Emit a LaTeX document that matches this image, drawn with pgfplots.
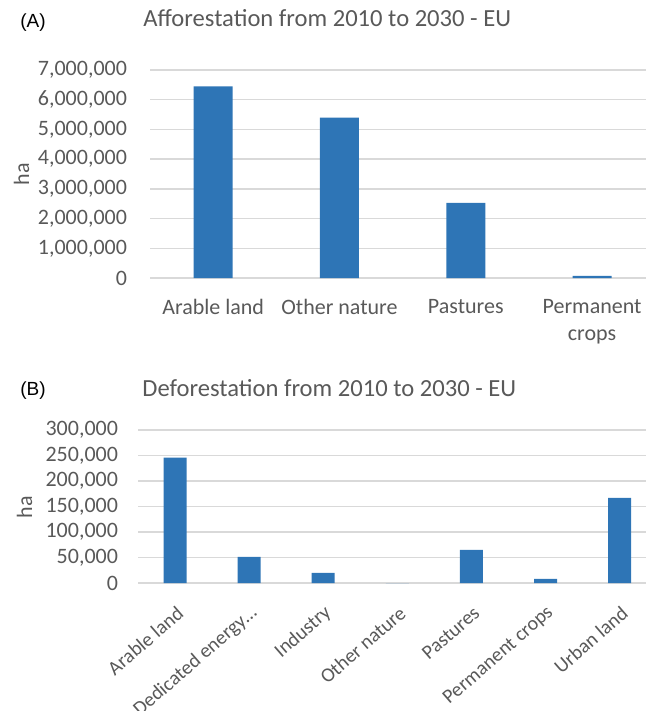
\documentclass[border=0pt]{standalone}
\usepackage{pgfplots}
\pgfplotsset{compat=1.18}
\usepackage{fontspec}
\setmainfont{Carlito}
\newfontfamily\panelfont{Liberation Sans}

\definecolor{barblue}{HTML}{2E75B6}
\definecolor{txtgray}{HTML}{595959}
\definecolor{gridgray}{HTML}{D9D9D9}

\pgfplotsset{
  excel/.style={
    scale only axis,
    ybar,
    axis line style={draw=none},
    major tick length=0pt,
    ymin=0, xmin=-0.5,
    ymajorgrids,
    grid style={gridgray, line width=0.7pt},
    scaled y ticks=false,
    /pgf/number format/fixed,
    /pgf/number format/assume math mode=true,
    /pgf/number format/1000 sep={,},
    ticklabel style={font=\fontsize{11}{13.6}\selectfont, text=txtgray},
  }
}

\begin{document}
\begin{tikzpicture}
\useasboundingbox (0,0) rectangle (323pt,-355.5pt);

% (A) afforestation
\node[anchor=base west, inner sep=0, font=\panelfont\fontsize{9.5}{11}\selectfont] at (10pt,-14pt) {(A)};
\node[anchor=base west, inner sep=0, text=txtgray, font=\fontsize{12.3}{14}\selectfont] at (71.5pt,-13.3pt) {Afforestation from 2010 to 2030 - EU};
\node[rotate=90, text=txtgray, font=\fontsize{11}{13}\selectfont] at (10.75pt,-87pt) {ha};

\begin{axis}[excel,
  at={(75pt,-139pt)}, anchor=south west,
  width=248pt, height=104pt,
  xmax=3.427, ymax=7000000,
  ytick={0,1000000,...,7000000},
  yticklabel style={xshift=-8pt},
  xtick={0,1,2,3},
  xticklabels={Arable land, Other nature, Pastures, {Permanent\\crops}},
  xticklabel style={align=center, yshift=-7pt},
  bar width=19.5pt,
]
\addplot[fill=barblue, draw=none] coordinates {
  (0, 6450000)
  (1, 5400000)
  (2, 2530000)
  (3, 70000)
};
\end{axis}

% (B) deforestation
\node[anchor=base west, inner sep=0, font=\panelfont\fontsize{9.5}{11}\selectfont] at (10pt,-197.5pt) {(B)};
\node[anchor=base west, inner sep=0, text=txtgray, font=\fontsize{12.3}{14}\selectfont] at (71pt,-198.3pt) {Deforestation from 2010 to 2030 - EU};
\node[rotate=90, text=txtgray, font=\fontsize{11}{13}\selectfont] at (12.25pt,-253.5pt) {ha};

\begin{axis}[excel,
  at={(69pt,-291.5pt)}, anchor=south west,
  width=254pt, height=76.5pt,
  xmax=6.356, ymax=300000,
  ytick={0,50000,...,300000},
  yticklabel style={xshift=-6.5pt},
  xtick={0,1,2,3,4,5,6},
  xticklabels={Arable land, Dedicated energy…, Industry, Other nature, Pastures, Permanent crops, Urban land},
  xticklabel style={rotate=41, anchor=east, inner sep=0pt, xshift=-6.8pt, yshift=-12pt, font=\fontsize{10}{12}\selectfont},
  bar width=11.5pt,
]
\addplot[fill=barblue, draw=none] coordinates {
  (0, 246000)
  (1, 51000)
  (2, 20000)
  (3, 0)
  (4, 65000)
  (5, 8000)
  (6, 167000)
};
\end{axis}
\end{tikzpicture}
\end{document}
